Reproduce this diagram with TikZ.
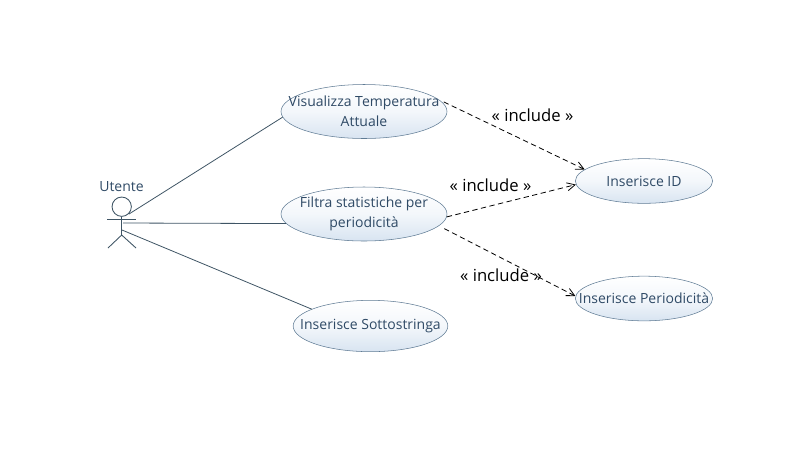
\documentclass[tikz,border=0pt]{standalone}
\usepackage{fontspec}
\usepackage{xcolor}
\setmainfont{Open Sans}
\usetikzlibrary{arrows.meta,shapes.geometric}
\definecolor{umlink}{HTML}{2F4A66}
\definecolor{umlline}{HTML}{3F5565}
\definecolor{umledge}{HTML}{5F7B94}
\definecolor{umlfill}{HTML}{D8E4F1}

\begin{document}
\begin{tikzpicture}[
  x=0.75pt, y=-0.75pt,
  font=\fontsize{10.5}{15}\selectfont,
  usecase/.style={draw=umledge, ellipse, inner sep=-30pt, align=center, text=umlink,
    top color=white, bottom color=umlfill, middle color=white!70!umlfill},
  bigcase/.style={usecase, minimum width=124.5pt, minimum height=40.5pt},
  midcase/.style={usecase, minimum width=116pt, minimum height=38.5pt},
  smallcase/.style={usecase, minimum width=103pt, minimum height=33.5pt},
  limb/.style={umlline, line width=0.65pt},
  assoc/.style={umlline, line width=0.6pt},
  incl/.style={black, line width=0.6pt, dash pattern=on 4pt off 2.6pt, -{Straight Barb[length=6pt,width=6pt]}},
  stereo/.style={text=black, font=\fontsize{12.5}{14}\selectfont, inner sep=1pt}
]
\useasboundingbox (0,0) rectangle (801,462);
% ---------------- actor
\node[text=umlink, inner sep=0pt] (utente) at (121.5,187) {Utente};
\node[draw=umlline, circle, line width=0.65pt, minimum size=14.5pt, inner sep=0pt] (head) at (121.7,206.7) {};
\coordinate (hip) at (121.7,235);
\coordinate (handl) at (107,219.5);
\coordinate (handr) at (136,219.5);
\coordinate (footl) at (108,248);
\coordinate (footr) at (136,248);
\draw[limb] (head.south) -- (hip);
\draw[limb] (handl) -- (handr);
\draw[limb] (footl) -- (hip) -- (footr);
% ---------------- use cases
\node[bigcase] (vis) at (364,111.5) {Visualizza Temperatura\\ Attuale};
\node[bigcase] (fil) at (364,214) {Filtra statistiche per\\ periodicità};
\node[midcase] (sot) at (370.5,326) {Inserisce Sottostringa};
\node[smallcase] (ins) at (644,181) {Inserisce ID};
\node[smallcase] (per) at (644,298.5) {Inserisce Periodicità};
% ---------------- stereotypes
\node[stereo] (inclA) at (532.5,115) {« include »};
\node[stereo] (inclB) at (490.5,185) {« include »};
\node[stereo] (inclC) at (501,275) {« include »};
% ---------------- associations
\coordinate (armA) at (129,214);
\coordinate (armB) at (123,223);
\coordinate (armC) at (122,230);
\draw[assoc] (armA) -- (vis.184);
\draw[assoc] (armB) -- (fil.187);
\draw[assoc] (armC) -- (sot.164);
% ---------------- includes
\draw[incl, shorten <=4pt] (vis.9) -- (ins.169);
\draw[incl] (fil.358) -- (ins.183);
\draw[incl, shorten <=4.5pt] (fil.351) -- (per.178);
\end{tikzpicture}
\end{document}
